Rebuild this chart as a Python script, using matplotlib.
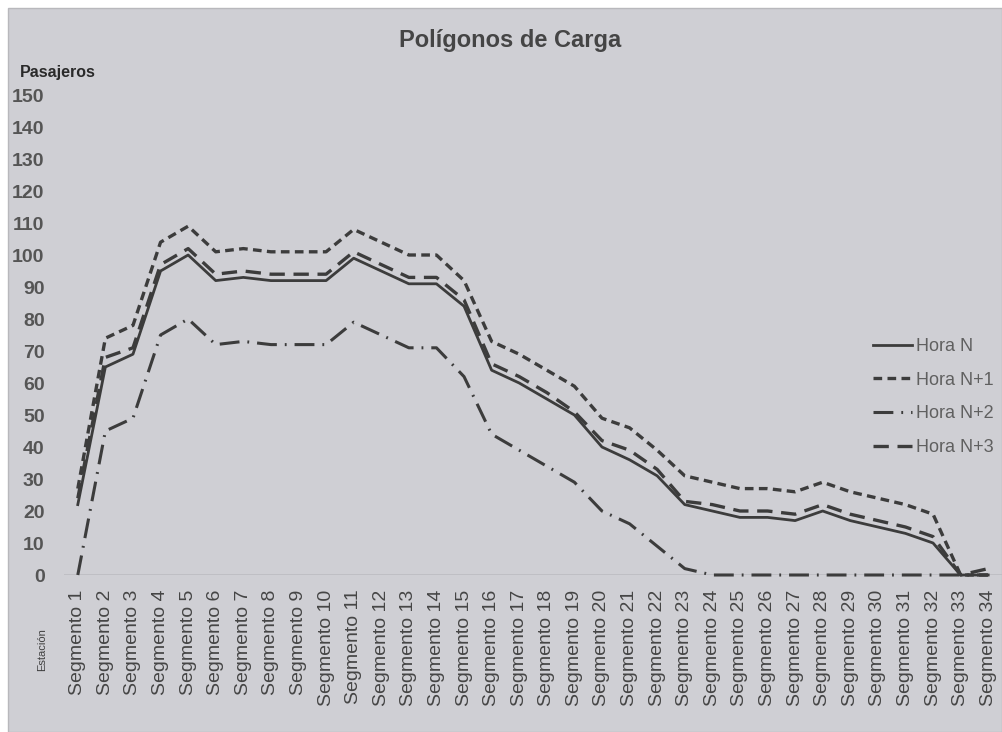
import matplotlib
matplotlib.use("Agg")
import matplotlib.pyplot as plt
from matplotlib.patches import Rectangle

segments = [f"Segmento {i}" for i in range(1, 35)]
yticks = list(range(0, 151, 10))

hora_n = [22, 65, 69, 95, 100, 92, 93, 92, 92, 92, 99, 95, 91, 91, 84, 64, 60, 55, 50, 40,
          36, 31, 22, 20, 18, 18, 17, 20, 17, 15, 13, 10, 0, 0]
hora_n1 = [27, 74, 78, 104, 109, 101, 102, 101, 101, 101, 108, 104, 100, 100, 92, 73, 69, 64, 59, 49,
           46, 39, 31, 29, 27, 27, 26, 29, 26, 24, 22, 19, 0, 0]
hora_n2 = [0, 45, 49, 75, 80, 72, 73, 72, 72, 72, 79, 75, 71, 71, 62, 44, 39, 34, 29, 20,
           16, 9, 2, 0, 0, 0, 0, 0, 0, 0, 0, 0, 0, 0]
hora_n3 = [24, 68, 71, 97, 102, 94, 95, 94, 94, 94, 101, 97, 93, 93, 86, 66, 62, 57, 51, 42,
           39, 33, 23, 22, 20, 20, 19, 22, 19, 17, 15, 12, 0, 2]

W, H = 1002, 732
fig = plt.figure(figsize=(W / 100, H / 100), dpi=100)
fig.patch.set_facecolor("white")
bg = "#cfcfd4"
fig.patches.append(Rectangle((8 / W, 0), 1 - 8 / W, (H - 8) / H, transform=fig.transFigure,
                             facecolor=bg, edgecolor="#b8b8bc", lw=1.0, zorder=-10))

left, right = 64 / W, 1.0
bottom, top = (H - 575) / H, (H - 95) / H
ax = fig.add_axes([left, bottom, right - left, top - bottom])
ax.set_zorder(1)
ax.set_facecolor("none")
for s in ax.spines.values():
    s.set_visible(False)

x = list(range(1, 35))
col = "#3c3c3c"
ax.axhline(0, color="#bcbcc1", lw=1.2, zorder=1)
ax.plot(x, hora_n, color=col, lw=2.0, label="Hora N", clip_on=False, zorder=3)
ax.plot(x, hora_n1, color=col, lw=2.4, dashes=(2.6, 1.6), label="Hora N+1", clip_on=False, zorder=3)
ax.plot(x, hora_n2, color=col, lw=2.2, dashes=(6.5, 2.6, 0.6, 2.6), label="Hora N+2", clip_on=False, zorder=3)
ax.plot(x, hora_n3, color=col, lw=2.4, dashes=(4.6, 2.6), label="Hora N+3", clip_on=False, zorder=3)

ax.set_xlim(0.5, 34.5)
ax.set_ylim(0, 150)
ax.set_yticks(yticks)
ax.set_yticklabels([str(v) for v in yticks])
ax.set_xticks(x)
ax.set_xticklabels(segments, rotation=90, va="top", ha="center")

sans = ["Liberation Sans", "DejaVu Sans"]
ax.tick_params(axis="both", length=0)
ax.tick_params(axis="y", pad=14)
ax.tick_params(axis="x", pad=10.5)
for lbl in ax.get_yticklabels():
    lbl.set_ha("right")
    lbl.set_family(sans)
    lbl.set_fontsize(14)
    lbl.set_fontweight("bold")
    lbl.set_color("#555555")
for lbl in ax.get_xticklabels():
    lbl.set_family(sans)
    lbl.set_fontsize(14)
    lbl.set_color("#454545")

fig.text(510 / W, 1 - 40 / H, "Polígonos de Carga", ha="center", va="center",
         fontsize=17, fontweight="bold", color="#454545", family=sans)
fig.text(20 / W, 1 - 72 / H, "Pasajeros", ha="left", va="center",
         fontsize=11.5, fontweight="bold", color="#2a2a2a", family=sans)
fig.text(42 / W, 1 - 650 / H, "Estación", ha="center", va="center", rotation=90,
         fontsize=8, color="#404040", family=sans)

leg = ax.legend(loc="upper left", bbox_to_anchor=(873 / W, 1 - 338 / H), bbox_transform=fig.transFigure,
                frameon=False, handlelength=2.15, handletextpad=0.25, labelspacing=0.92,
                borderpad=0, borderaxespad=0,
                prop={"family": sans, "size": 13})
for t in leg.get_texts():
    t.set_color("#606060")

fig.savefig("out.png", dpi=100, facecolor=fig.get_facecolor())
